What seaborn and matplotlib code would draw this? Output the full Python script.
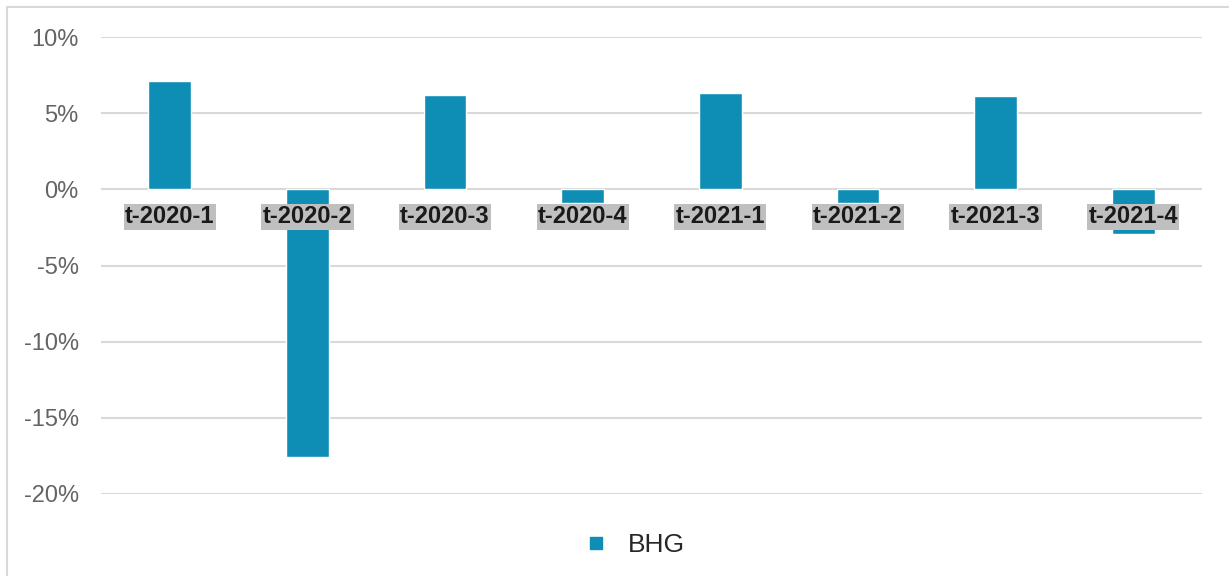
import matplotlib
matplotlib.use("Agg")
import matplotlib.pyplot as plt
from matplotlib.lines import Line2D
from matplotlib.patches import Rectangle
from matplotlib.ticker import FuncFormatter, MultipleLocator
import seaborn as sns
import pandas as pd

# Quarterly values (%)
periods = ["t-2020-1", "t-2020-2", "t-2020-3", "t-2020-4",
           "t-2021-1", "t-2021-2", "t-2021-3", "t-2021-4"]
bhg = [7.1, -17.6, 6.2, -0.9, 6.3, -0.9, 6.1, -2.95]
series_name = "BHG"

bar_color = "#0e8eb5"
grid_color = "#d9d9d9"
tick_color = "#646464"

df = pd.DataFrame({"period": periods, "value": bhg})

sns.set_theme(style="white")
plt.rcParams["font.family"] = ["Liberation Sans", "DejaVu Sans"]

fig = plt.figure(figsize=(12.29, 5.76), dpi=100)
ax = fig.add_axes([101 / 1229, 1 - 494 / 576, (1202 - 101) / 1229, (494 - 37) / 576])

sns.barplot(data=df, x="period", y="value", color=bar_color, width=0.31,
            saturation=1, ax=ax, zorder=3)

ax.set_ylim(-20, 10)
ax.set_xlim(-0.5, len(periods) - 0.5)
ax.yaxis.set_major_locator(MultipleLocator(5))
ax.yaxis.set_major_formatter(FuncFormatter(lambda v, _: f"{v:.0f}%"))
ax.grid(axis="y", color=grid_color, linewidth=1.5, zorder=0)
ax.grid(axis="x", visible=False)
for s in ax.spines.values():
    s.set_visible(False)
ax.tick_params(axis="y", length=0, pad=16, labelsize=17, labelcolor=tick_color)
ax.set_xticks([])
ax.set_xlabel("")
ax.set_ylabel("")

# Category labels sit just below the zero line on a grey band
for i, name in enumerate(periods):
    ax.text(i, -1.8, name, ha="center", va="center", fontsize=17,
            fontweight="bold", color="#1a1a1a", zorder=5,
            bbox=dict(boxstyle="square,pad=0.06", facecolor="#bfbfbf",
                      edgecolor="none"))

handle = Line2D([], [], linestyle="none", marker="s", markersize=9,
                markerfacecolor=bar_color, markeredgecolor=bar_color)
fig.legend([handle], [series_name], loc="center",
           bbox_to_anchor=(634 / 1229, 1 - 545 / 576), frameon=False,
           fontsize=19, handlelength=1.0, handletextpad=0.7,
           labelcolor="#262626")

# Light outer frame of the chart area
fig.patches.append(Rectangle((7 / 1229, -0.05), 1.1, 1.05 - 7 / 576,
                             transform=fig.transFigure, fill=False,
                             edgecolor=grid_color, linewidth=1.5))

fig.savefig("out.png", dpi=100, facecolor="white")
